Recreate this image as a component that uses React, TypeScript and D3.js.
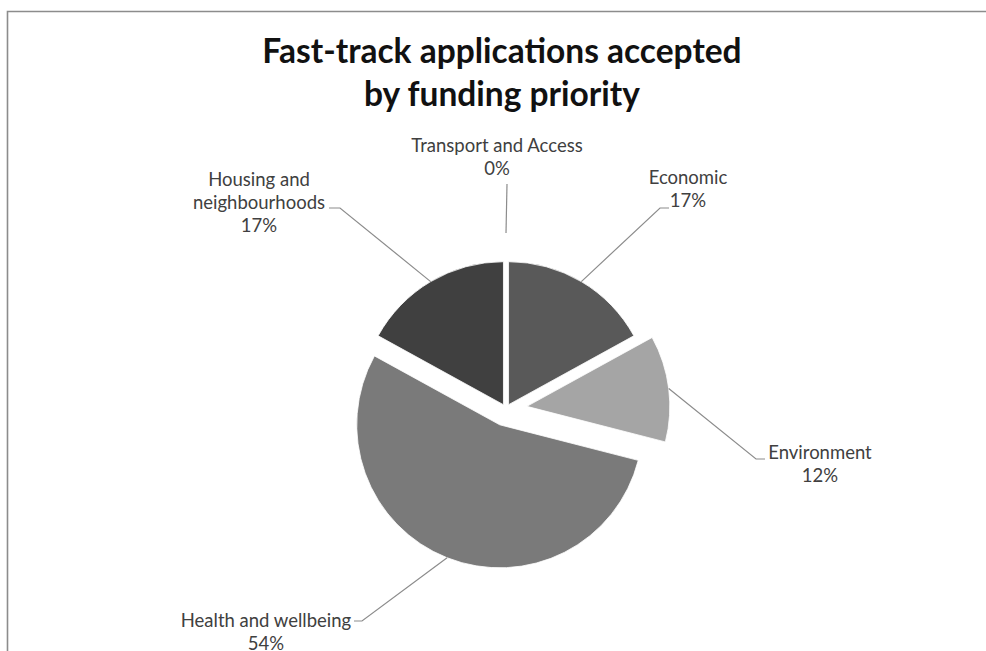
import React from "react";
import * as d3 from "d3";

// ---- data ----
const categories = [
  "Economic",
  "Environment",
  "Health and wellbeing",
  "Housing and neighbourhoods",
  "Transport and Access",
];
const percentages = [17, 12, 54, 17, 0];
const titleLines = ["Fast-track applications accepted", "by funding priority"];

// ---- layout / style ----
const W = 986;
const H = 651;
const CX = 506;
const CY = 409;
const R = 143;

const sliceStyle: Record<string, { fill: string; explode: number }> = {
  Economic: { fill: "#595959", explode: 5 },
  Environment: { fill: "#a5a5a5", explode: 21 },
  "Health and wellbeing": { fill: "#7a7a7a", explode: 17 },
  "Housing and neighbourhoods": { fill: "#404040", explode: 5 },
  "Transport and Access": { fill: "#8c8c8c", explode: 0 },
};

type LabelLayout = {
  lines: string[];
  x: number;
  y: number;
  elbow: [number, number];
  tail: [number, number];
  startExtra?: number;
};

const labelLayout: Record<string, LabelLayout> = {
  Economic: { lines: ["Economic"], x: 688, y: 184, elbow: [660, 208], tail: [669, 208] },
  Environment: { lines: ["Environment"], x: 820, y: 459, elbow: [756, 459], tail: [765, 459] },
  "Health and wellbeing": {
    lines: ["Health and wellbeing"],
    x: 266,
    y: 627,
    elbow: [362, 621],
    tail: [354, 621],
  },
  "Housing and neighbourhoods": {
    lines: ["Housing and", "neighbourhoods"],
    x: 259,
    y: 186,
    elbow: [340, 208],
    tail: [329, 208],
  },
  "Transport and Access": {
    lines: ["Transport and Access"],
    x: 497,
    y: 152,
    elbow: [507, 184],
    tail: [507, 184],
    startExtra: 33,
  },
};

const LINE_H = 23;

export default function App() {
  const pie = d3
    .pie<number>()
    .sort(null)
    .value((d) => d)
    .startAngle(0)
    .endAngle(2 * Math.PI);
  const arcs = pie(percentages);
  const arcGen = d3.arc<d3.PieArcDatum<number>>().innerRadius(0).outerRadius(R);

  const slices = arcs.map((a, i) => {
    const name = categories[i];
    const st = sliceStyle[name];
    const mid = (a.startAngle + a.endAngle) / 2;
    const dx = st.explode * Math.sin(mid);
    const dy = -st.explode * Math.cos(mid);
    const ox = CX + dx;
    const oy = CY + dy;
    const lay = labelLayout[name];
    const sr = R + (lay.startExtra || 0);
    const sx = ox + sr * Math.sin(mid);
    const sy = oy - sr * Math.cos(mid);
    return { a, name, st, ox, oy, sx, sy, lay, pct: percentages[i] };
  });

  return (
    <svg
      width={W}
      height={H}
      style={{ position: "absolute", left: 0, top: 0, background: "#fff" }}
      fontFamily="Lato, 'Open Sans', sans-serif"
    >
      <rect x={0} y={0} width={W} height={H} fill="#fff" />
      <path d={`M7.5,${H + 5} L7.5,11.5 L${W + 5},11.5`} fill="none" stroke="#8c8c8c" strokeWidth={1.6} />

      {titleLines.map((t, i) => (
        <text
          key={t}
          x={502}
          y={63 + i * 43}
          textAnchor="middle"
          fontSize={33.5}
          fontWeight={700}
          fill="#111"
        >
          {t}
        </text>
      ))}

      {slices.map((s) =>
        s.pct > 0 ? (
          <path
            key={s.name}
            d={arcGen(s.a) || ""}
            transform={`translate(${s.ox},${s.oy})`}
            fill={s.st.fill}
            stroke="#fff"
            strokeWidth={0.8}
          />
        ) : null
      )}

      {slices.map((s) => (
        <polyline
          key={"l" + s.name}
          points={`${s.sx},${s.sy} ${s.lay.elbow[0]},${s.lay.elbow[1]} ${s.lay.tail[0]},${s.lay.tail[1]}`}
          fill="none"
          stroke="#8c8c8c"
          strokeWidth={1.2}
        />
      ))}

      {slices.map((s) => (
        <text key={"t" + s.name} textAnchor="middle" fontSize={18.5} fill="#404040">
          {[...s.lay.lines, `${s.pct}%`].map((ln, j) => (
            <tspan key={j} x={s.lay.x} y={s.lay.y + j * LINE_H}>
              {ln}
            </tspan>
          ))}
        </text>
      ))}
    </svg>
  );
}
